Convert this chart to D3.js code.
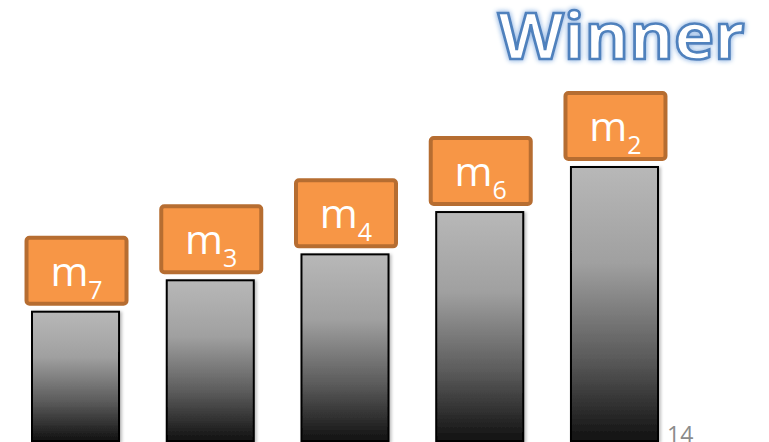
<!DOCTYPE html>
<html>
<head>
<meta charset="utf-8">
<script src="https://cdn.jsdelivr.net/npm/d3@7"></script>
<style>
  html, body { margin: 0; padding: 0; background: #fff; }
  svg { display: block; }
</style>
</head>
<body>
<div id="chart"></div>
<script>
(function winnerChart() {
  const MODELS = ['m7', 'm3', 'm4', 'm6', 'm2'];
  const SUBSCRIPTS = ['7', '3', '4', '6', '2'];
  const SCORES = [4.7, 5.85, 6.8, 8.35, 10.0];
  const TITLE = 'Winner';
  const PAGE_NUMBER = '14';

  const width = 769;
  const height = 442;
  const baseY = 440;

  const svg = d3.select('#chart').append('svg')
    .attr('width', width)
    .attr('height', height);

  const defs = svg.append('defs');

  // grey bar gradient, light at top, near black at bottom
  const grad = defs.append('linearGradient')
    .attr('id', 'bar-grad')
    .attr('x1', 0).attr('y1', 0).attr('x2', 0).attr('y2', 1);
  grad.append('stop').attr('offset', '0%').attr('stop-color', '#b8b8b8');
  grad.append('stop').attr('offset', '35%').attr('stop-color', '#a0a0a0');
  grad.append('stop').attr('offset', '70%').attr('stop-color', '#5a5a5a');
  grad.append('stop').attr('offset', '100%').attr('stop-color', '#111111');

  // glow for the title
  const glow = defs.append('filter').attr('id', 'glow')
    .attr('x', '-10%').attr('y', '-30%').attr('width', '120%').attr('height', '160%');
  glow.append('feGaussianBlur').attr('in', 'SourceAlpha').attr('stdDeviation', 2.5).attr('result', 'blur');
  glow.append('feFlood').attr('flood-color', '#a9c6ea').attr('result', 'col');
  glow.append('feComposite').attr('in', 'col').attr('in2', 'blur').attr('operator', 'in').attr('result', 'g');
  const merge = glow.append('feMerge');
  merge.append('feMergeNode').attr('in', 'g');
  merge.append('feMergeNode').attr('in', 'g');
  merge.append('feMergeNode').attr('in', 'SourceGraphic');

  const shadow = defs.append('filter').attr('id', 'shadow')
    .attr('x', '-10%').attr('y', '-10%').attr('width', '130%').attr('height', '130%');
  shadow.append('feDropShadow').attr('dx', 2).attr('dy', 1).attr('stdDeviation', 1.5)
    .attr('flood-color', '#000').attr('flood-opacity', 0.25);

  const x = d3.scaleBand()
    .domain(MODELS)
    .range([32, 658])
    .paddingInner(0.354)
    .paddingOuter(0);

  const y = d3.scaleLinear()
    .domain([0, 10])
    .range([baseY, 167]);

  // bars
  svg.append('g').selectAll('rect')
    .data(MODELS)
    .join('rect')
    .attr('x', d => x(d))
    .attr('y', (d, i) => y(SCORES[i]))
    .attr('width', x.bandwidth())
    .attr('height', (d, i) => baseY - y(SCORES[i]) + 1)
    .attr('fill', 'url(#bar-grad)')
    .attr('stroke', '#000')
    .attr('stroke-width', 2)
    .attr('filter', 'url(#shadow)');

  // orange label boxes
  const boxW = 100;
  const boxH = 66;
  const gap = 8;

  const labels = svg.append('g').selectAll('g')
    .data(MODELS)
    .join('g')
    .attr('transform', (d, i) => {
      const cx = x(d) + x.bandwidth() / 2 + 1;
      const top = y(SCORES[i]) - gap - boxH;
      return `translate(${cx - boxW / 2},${top})`;
    });

  labels.append('rect')
    .attr('width', boxW)
    .attr('height', boxH)
    .attr('rx', 3)
    .attr('fill', '#f79646')
    .attr('stroke', '#b66d31')
    .attr('stroke-width', 4);

  const txt = labels.append('text')
    .attr('x', boxW / 2)
    .attr('y', 48)
    .attr('text-anchor', 'middle')
    .attr('fill', '#fff')
    .attr('font-family', "'Open Sans', 'Noto Sans', sans-serif")
    .attr('font-size', 41);
  txt.append('tspan').text('m');
  txt.append('tspan')
    .attr('dy', 13)
    .attr('font-size', 25)
    .text((d, i) => SUBSCRIPTS[i]);

  // title
  svg.append('text')
    .attr('x', 745)
    .attr('y', 59)
    .attr('text-anchor', 'end')
    .attr('font-family', "'Open Sans', 'Noto Sans', sans-serif")
    .attr('font-size', 64)
    .attr('font-weight', 700)
    .attr('textLength', 247)
    .attr('lengthAdjust', 'spacingAndGlyphs')
    .attr('fill', '#fff')
    .attr('stroke', '#4f81bd')
    .attr('stroke-width', 2.6)
    .attr('filter', 'url(#glow)')
    .text(TITLE);

  // slide number
  svg.append('text')
    .attr('x', 667)
    .attr('y', 443)
    .attr('font-family', "'Open Sans', 'Noto Sans', sans-serif")
    .attr('font-size', 23)
    .attr('fill', '#8b8b8b')
    .text(PAGE_NUMBER);
})();
</script>
</body>
</html>
